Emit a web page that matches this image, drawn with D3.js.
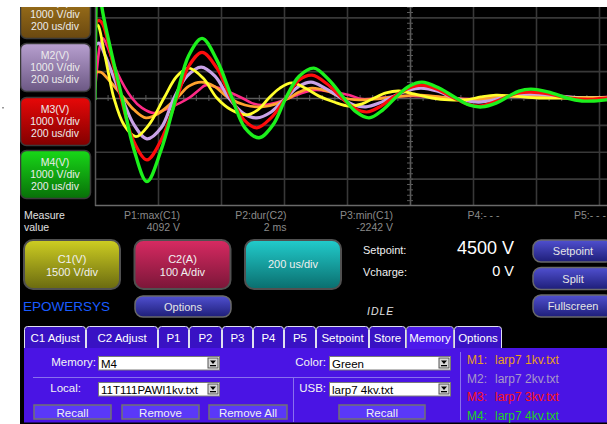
<!DOCTYPE html>
<html>
<head>
<meta charset="utf-8">
<script src="https://cdn.jsdelivr.net/npm/d3@7"></script>
<style>
html, body { margin: 0; padding: 0; background: #fff; }
svg { display: block; font-family: "Liberation Sans", Arial, sans-serif; }
</style>
</head>
<body>
<div id="scope"></div>
<script>
// traces: [time in us, volts]  (200 us/div, 1000 V/div)
var traceGreen = [[0,-70],[3,3400],[5,4200],[13,4400],[22,3370],[54,1590],[86,0],[124,-1930],[165,-3110],[210,-1930],[257,0],[298,1590],[340,2220],[387,1410],[435,0],[476,-1110],[521,-1480],[565,-1000],[606,0],[648,810],[695,1110],[743,670],[790,0],[829,-520],[870,-740],[914,-440],[956,40],[997,440],[1038,590],[1092,370],[1146,0],[1187,-260],[1229,-330],[1273,-190],[1314,70],[1346,260],[1384,330],[1441,220],[1498,0],[1546,-110],[1584,-110],[1622,-70],[1663,-40]];
var traceRed = [[0,1400],[5,2820],[13,2890],[25,2740],[51,1590],[83,0],[121,-1560],[165,-2300],[210,-1560],[260,0],[298,1190],[340,1700],[387,1110],[432,0],[473,-810],[514,-1110],[559,-740],[606,0],[648,670],[689,850],[737,520],[784,0],[822,-370],[863,-520],[908,-300],[952,70],[997,370],[1035,480],[1086,330],[1140,0],[1181,-220],[1219,-300],[1267,-150],[1314,70],[1346,190],[1384,220],[1441,150],[1505,0],[1568,-40],[1622,0],[1663,0]];
var traceLavender = [[0,1960],[13,2040],[32,1590],[57,850],[86,0],[124,-1000],[165,-1520],[210,-1110],[251,0],[292,810],[337,1150],[381,810],[425,0],[470,-560],[514,-740],[559,-520],[606,0],[648,440],[686,590],[730,370],[781,0],[822,-260],[860,-330],[902,-190],[949,70],[997,300],[1035,370],[1086,260],[1140,0],[1181,-110],[1219,-150],[1267,-70],[1314,70],[1384,150],[1473,70],[1552,0],[1622,0],[1663,0]];
var traceYellow = [[0,2780],[10,2700],[25,1960],[44,850],[60,0],[92,-1000],[130,-1440],[171,-1000],[219,0],[260,810],[298,1110],[343,740],[387,0],[432,-440],[479,-630],[517,-440],[552,0],[587,370],[625,560],[667,370],[711,70],[759,-150],[806,-300],[848,-220],[886,0],[924,190],[965,260],[1013,150],[1070,0],[1124,-70],[1178,-70],[1225,40],[1273,110],[1330,70],[1410,0],[1505,0],[1622,0],[1663,0]];
var traceOrange = [[0,960],[19,960],[44,670],[92,0],[124,-440],[162,-740],[203,-560],[260,0],[298,440],[337,590],[378,440],[425,0],[476,-260],[530,-330],[575,-220],[616,0],[648,220],[689,370],[737,260],[790,0],[838,-70],[886,-40],[949,40],[1035,110],[1124,0],[1210,-70],[1298,40],[1384,110],[1473,40],[1622,0],[1663,0]];
var tracePink = [[0,300],[6,1040],[16,1960],[25,2220],[38,1960],[70,960],[117,0],[149,-370],[187,-560],[235,-370],[298,0],[330,300],[352,480],[394,370],[467,0],[498,-190],[530,-260],[571,-190],[616,0],[657,190],[702,300],[752,220],[806,110],[848,-40],[902,0],[965,70],[1019,70],[1092,40],[1187,-40],[1283,40],[1410,40],[1537,0],[1622,40],[1663,40]];

var memPanels = ["M1(V)", "M2(V)", "M3(V)", "M4(V)"];
var memScale = ["1000 V/div", "200 us/div"];
var measureLabels = ["P1:max(C1)", "P2:dur(C2)", "P3:min(C1)", "P4:- - -", "P5:- - -"];
var measureValues = ["4092 V", "2 ms", "-2242 V", "", ""];
var chanButtons = [["C1(V)", "1500 V/div"], ["C2(A)", "100 A/div"], ["200 us/div"]];
var sideButtons = ["Setpoint", "Split", "Fullscreen"];
var tabNames = ["C1 Adjust", "C2 Adjust", "P1", "P2", "P3", "P4", "P5", "Setpoint", "Store", "Memory", "Options"];
var memFiles = ["M1:", "M2:", "M3:", "M4:"];
var memFileNames = ["larp7 1kv.txt", "larp7 2kv.txt", "larp7 3kv.txt", "larp7 4kv.txt"];

var W = 607, H = 424;
var svg = d3.select("#scope").append("svg").attr("width", W).attr("height", H);
var defs = svg.append("defs");

function grad(id, top, bottom) {
    var g = defs.append("linearGradient").attr("id", id).attr("x1", 0).attr("y1", 0).attr("x2", 0).attr("y2", 1);
    g.append("stop").attr("offset", "0%").attr("stop-color", top);
    g.append("stop").attr("offset", "100%").attr("stop-color", bottom);
}
grad("gM1", "#a87a1c", "#6a4810");
grad("gM2", "#b8a0d0", "#6c5884");
grad("gM3", "#e80808", "#820000");
grad("gM4", "#18d818", "#087008");
grad("gC1", "#cece22", "#6a6a10");
grad("gC2", "#d82a62", "#7a1638");
grad("gTB", "#22cccc", "#0a6e6e");
grad("gBlue", "#5050d0", "#1e1e78");

// black screen
svg.append("rect").attr("x", 20).attr("y", 0).attr("width", W - 20).attr("height", H).attr("fill", "#000");

// scales
var x = d3.scaleLinear().domain([0, 2000]).range([95, 725]);
var y = d3.scaleLinear().domain([-4000, 4000]).range([205.5, -9.5]);

defs.append("clipPath").attr("id", "plotClip")
    .append("rect").attr("x", 95).attr("y", 0).attr("width", 520).attr("height", 206);

var plot = svg.append("g").attr("clip-path", "url(#plotClip)");

// grid
var gx = plot.append("g").attr("transform", "translate(0,205.5)")
    .call(d3.axisBottom(x).tickValues(d3.range(200, 2000, 200)).tickSize(-220).tickFormat(""));
gx.select(".domain").remove();
gx.selectAll("line").attr("stroke", function(d) { return d === 1000 ? "#5a5a5a" : "#383838"; }).attr("stroke-width", 1.6);

var gy = plot.append("g").attr("transform", "translate(95,0)")
    .call(d3.axisLeft(y).tickValues(d3.range(-3000, 4000, 1000)).tickSize(-640).tickFormat(""));
gy.select(".domain").remove();
gy.selectAll("line").attr("stroke", function(d) { return d === 0 ? "#5a5a5a" : "#383838"; }).attr("stroke-width", 1.6);

// minor ticks on center lines
var mx = plot.append("g").attr("transform", "translate(0," + (y(0) - 3) + ")")
    .call(d3.axisBottom(x).tickValues(d3.range(40, 2000, 40)).tickSize(6).tickFormat(""));
mx.select(".domain").remove();
mx.selectAll("line").attr("stroke", "#5a5a5a").attr("stroke-width", 1);
var my = plot.append("g").attr("transform", "translate(" + (x(1000) + 3) + ",0)")
    .call(d3.axisLeft(y).tickValues(d3.range(-4000, 4000, 200)).tickSize(6).tickFormat(""));
my.select(".domain").remove();
my.selectAll("line").attr("stroke", "#5a5a5a").attr("stroke-width", 1);

// traces
var line = d3.line().x(function(d) { return x(d[0]); }).y(function(d) { return y(d[1]); })
    .curve(d3.curveCatmullRom.alpha(0.5));
var traces = [
    {data: tracePink, color: "#ff2a86", w: 2.6},
    {data: traceOrange, color: "#ffa22e", w: 2.8},
    {data: traceLavender, color: "#c8a2e6", w: 3.2},
    {data: traceYellow, color: "#ffff2c", w: 2.8},
    {data: traceRed, color: "#ff0c0c", w: 3.2},
    {data: traceGreen, color: "#1cf01c", w: 3.4}
];
plot.selectAll("path.trace").data(traces).enter().append("path")
    .attr("class", "trace")
    .attr("d", function(d) { return line(d.data); })
    .attr("fill", "none")
    .attr("stroke", function(d) { return d.color; })
    .attr("stroke-width", function(d) { return d.w; })
    .attr("stroke-linejoin", "round");

// plot frame (left and bottom)
svg.append("line").attr("x1", 95.5).attr("x2", 95.5).attr("y1", 0).attr("y2", 206).attr("stroke", "#5a5a5a").attr("stroke-width", 1.5);
svg.append("line").attr("x1", 95).attr("x2", W).attr("y1", 205.5).attr("y2", 205.5).attr("stroke", "#6a6a6a").attr("stroke-width", 1.5);

// memory panels on the left
var panelTops = [-10, 43, 97, 150];
memPanels.forEach(function(name, i) {
    var g = svg.append("g").attr("transform", "translate(20," + panelTops[i] + ")");
    g.append("rect").attr("x", 0.5).attr("y", 0.5).attr("width", 70).attr("height", 48).attr("rx", 6)
        .attr("fill", "url(#gM" + (i + 1) + ")").attr("stroke", "#3a3a3a").attr("stroke-width", 1.5);
    [name].concat(memScale).forEach(function(t, k) {
        g.append("text").attr("x", 35).attr("y", 16 + k * 12).attr("text-anchor", "middle")
            .attr("font-size", 10.5).attr("fill", "#ececec").text(t);
    });
});

// measurements
svg.append("text").attr("x", 24).attr("y", 219).attr("font-size", 10.5).attr("fill", "#e0e0e0").text("Measure");
svg.append("text").attr("x", 24).attr("y", 231).attr("font-size", 10.5).attr("fill", "#e0e0e0").text("value");
measureLabels.forEach(function(t, i) {
    var rx = 180 + i * 106.5;
    svg.append("text").attr("x", rx).attr("y", 219).attr("text-anchor", "end").attr("font-size", 10.5).attr("fill", "#8a8a8a").text(t);
    svg.append("text").attr("x", rx).attr("y", 231).attr("text-anchor", "end").attr("font-size", 10.5).attr("fill", "#8a8a8a").text(measureValues[i]);
});

// channel buttons
var chanFill = ["url(#gC1)", "url(#gC2)", "url(#gTB)"];
chanButtons.forEach(function(lines, i) {
    var bx = 24 + i * 110.5;
    svg.append("rect").attr("x", bx).attr("y", 240).attr("width", 96).attr("height", 49).attr("rx", 9)
        .attr("fill", chanFill[i]).attr("stroke", "#505050").attr("stroke-width", 2);
    lines.forEach(function(t, k) {
        svg.append("text").attr("x", bx + 48).attr("y", (lines.length === 1 ? 268 : 263 + k * 13))
            .attr("text-anchor", "middle").attr("font-size", 11).attr("fill", "#f0f0f0").text(t);
    });
});

svg.append("text").attr("x", 23).attr("y", 311).attr("font-size", 13.5).attr("fill", "#1a5cff").text("EPOWERSYS");

svg.append("rect").attr("x", 135).attr("y", 296).attr("width", 96).attr("height", 21).attr("rx", 8)
    .attr("fill", "url(#gBlue)").attr("stroke", "#6a6a6a").attr("stroke-width", 1.5);
svg.append("text").attr("x", 183).attr("y", 311).attr("text-anchor", "middle").attr("font-size", 11).attr("fill", "#e6e6e6").text("Options");

// setpoint block
svg.append("text").attr("x", 363).attr("y", 254).attr("font-size", 11).attr("fill", "#f0f0f0").text("Setpoint:");
svg.append("text").attr("x", 363).attr("y", 276).attr("font-size", 11).attr("fill", "#f0f0f0").text("Vcharge:");
svg.append("text").attr("x", 514).attr("y", 254).attr("text-anchor", "end").attr("font-size", 18).attr("fill", "#fff").text("4500 V");
svg.append("text").attr("x", 514).attr("y", 276).attr("text-anchor", "end").attr("font-size", 14.5).attr("fill", "#fff").text("0 V");
svg.append("text").attr("x", 367).attr("y", 315).attr("font-size", 10.5).attr("font-style", "italic")
    .attr("letter-spacing", 1).attr("fill", "#e0e0e0").text("IDLE");

sideButtons.forEach(function(t, i) {
    var by = 240 + i * 27.5;
    svg.append("rect").attr("x", 533).attr("y", by).attr("width", 80).attr("height", 22).attr("rx", 8)
        .attr("fill", "url(#gBlue)").attr("stroke", "#6a6a6a").attr("stroke-width", 1.5);
    svg.append("text").attr("x", 573).attr("y", by + 15).attr("text-anchor", "middle").attr("font-size", 11).attr("fill", "#e6e6e6").text(t);
});

// tabs
var tabEdges = [24, 86, 158, 189, 222, 253, 284, 316, 369, 406, 454, 502];
var panelColor = "#4a14e4";
tabNames.forEach(function(t, i) {
    var x0 = tabEdges[i] + 0.5, x1 = tabEdges[i + 1] - 0.5;
    var sel = t === "Memory";
    svg.append("rect").attr("x", x0).attr("y", 326.5).attr("width", x1 - x0).attr("height", 26).attr("rx", 3)
        .attr("fill", sel ? "#4c1aea" : "#3912c4").attr("stroke", sel ? "#b8b8c8" : "#e0e0f0").attr("stroke-width", 1);
    svg.append("text").attr("x", (x0 + x1) / 2).attr("y", 342).attr("text-anchor", "middle")
        .attr("font-size", 11.5).attr("fill", "#fff").text(t);
});

// memory tab page
svg.append("rect").attr("x", 24).attr("y", 348).attr("width", W - 24).attr("height", 74.5).attr("fill", panelColor);
svg.append("rect").attr("x", 407).attr("y", 346).attr("width", 46).attr("height", 3).attr("fill", "#4c1aea");
svg.append("line").attr("x1", 33).attr("x2", 450).attr("y1", 377.5).attr("y2", 377.5).attr("stroke", "#8a70ee").attr("stroke-width", 1);
svg.append("line").attr("x1", 293.5).attr("x2", 293.5).attr("y1", 378).attr("y2", 422).attr("stroke", "#8a70ee").attr("stroke-width", 1);
svg.append("line").attr("x1", 460.5).attr("x2", 460.5).attr("y1", 352).attr("y2", 420).attr("stroke", "#8a70ee").attr("stroke-width", 1);

function label(tx, ty, t) {
    svg.append("text").attr("x", tx).attr("y", ty).attr("text-anchor", "end").attr("font-size", 11.5).attr("fill", "#f4f4f4").text(t);
}
function selectBox(bx, by, w, t) {
    svg.append("rect").attr("x", bx + 0.5).attr("y", by + 0.5).attr("width", w).attr("height", 13.5)
        .attr("fill", "#fff").attr("stroke", "#7a7a7a");
    svg.append("text").attr("x", bx + 3).attr("y", by + 11.5).attr("font-size", 11.5).attr("fill", "#000").text(t);
    var ax = bx + w - 11;
    svg.append("rect").attr("x", ax).attr("y", by + 2).attr("width", 10).attr("height", 10).attr("fill", "#d8d8d8").attr("stroke", "#555");
    svg.append("path").attr("d", "M" + (ax + 2) + "," + (by + 4.5) + "h6l-3,3.5z").attr("fill", "#000");
    svg.append("rect").attr("x", ax + 2).attr("y", by + 9).attr("width", 6).attr("height", 1.3).attr("fill", "#000");
}
function flatButton(bx, by, w, t) {
    svg.append("rect").attr("x", bx).attr("y", by).attr("width", w).attr("height", 14)
        .attr("fill", "#5a38f8").attr("stroke", "#727272").attr("stroke-width", 1.5);
    svg.append("text").attr("x", bx + w / 2).attr("y", by + 11.5).attr("text-anchor", "middle").attr("font-size", 11.5).attr("fill", "#f0f0f0").text(t);
}

label(96, 366, "Memory:");
selectBox(98, 356, 121, "M4");
label(81, 392, "Local:");
selectBox(98, 382, 121, "11T111PAWI1kv.txt");
label(326, 366, "Color:");
selectBox(329, 356, 121, "Green");
label(326, 392, "USB:");
selectBox(329, 382, 121, "larp7 4kv.txt");
flatButton(34, 405, 77, "Recall");
flatButton(122, 405, 77, "Remove");
flatButton(209, 405, 78, "Remove All");
flatButton(339, 405, 86, "Recall");

var fileColors = ["#e9a020", "#a898c8", "#ff1414", "#1ed21e"];
memFiles.forEach(function(t, i) {
    var ty = 364 + i * 18.5;
    svg.append("text").attr("x", 467).attr("y", ty).attr("font-size", 12).attr("fill", fileColors[i]).text(t);
    svg.append("text").attr("x", 495).attr("y", ty).attr("font-size", 12).attr("fill", fileColors[i]).text(memFileNames[i]);
});

// white margins
svg.append("rect").attr("x", 0).attr("y", 0).attr("width", W).attr("height", 7).attr("fill", "#fff");
svg.append("rect").attr("x", 0).attr("y", 0).attr("width", 20).attr("height", H).attr("fill", "#fff");
svg.append("rect").attr("x", 2).attr("y", 107).attr("width", 2).attr("height", 1.5).attr("fill", "#999");
</script>
</body>
</html>
